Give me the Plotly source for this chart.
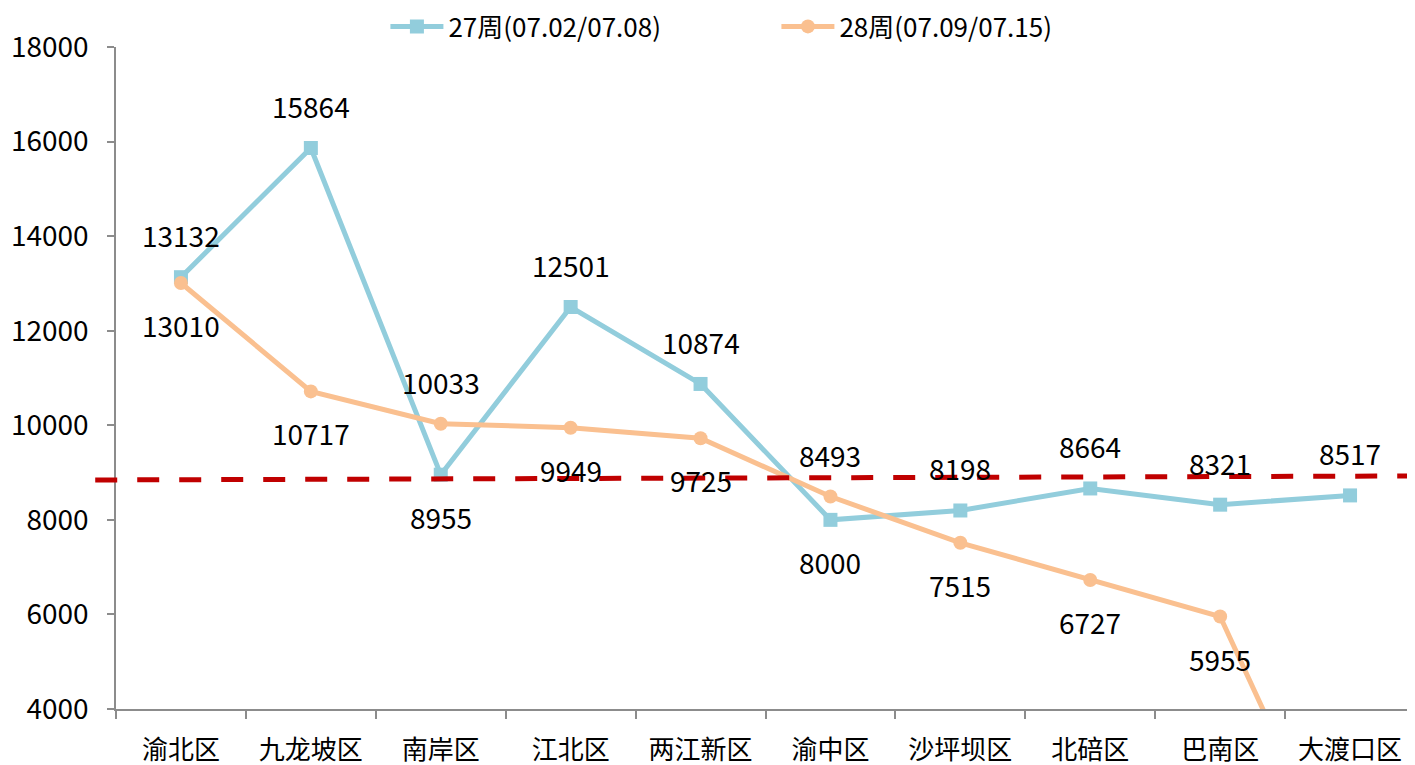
import plotly.graph_objects as go

categories = ["渝北区", "九龙坡区", "南岸区", "江北区", "两江新区", "渝中区", "沙坪坝区", "北碚区", "巴南区", "大渡口区"]
week27 = [13132, 15864, 8955, 12501, 10874, 8000, 8198, 8664, 8321, 8517]
week28 = [13010, 10717, 10033, 9949, 9725, 8493, 7515, 6727, 5955, 0]
# label side: 1 = above, -1 = below
pos27 = [1, 1, -1, 1, 1, -1, 1, 1, 1, 1]
pos28 = [-1, -1, 1, -1, -1, 1, -1, -1, -1, -1]
name27 = "27周(07.02/07.08)"
name28 = "28周(07.09/07.15)"
ref_line = [8844, 8928]

FONT = "Noto Sans CJK SC"
BLUE = "#92CDDC"
ORANGE = "#FAC090"
YMIN, YMAX = 4000, 18000

fig = go.Figure()
fig.add_trace(go.Scatter(x=categories, y=week27, name=name27, mode="lines+markers",
                         line=dict(color=BLUE, width=5),
                         marker=dict(symbol="square", size=14, color=BLUE)))
fig.add_trace(go.Scatter(x=categories, y=week28, name=name28, mode="lines+markers",
                         line=dict(color=ORANGE, width=5),
                         marker=dict(symbol="circle", size=14, color=ORANGE)))

annotations = []
for vals, poss in ((week27, pos27), (week28, pos28)):
    for c, v, p in zip(categories, vals, poss):
        if YMIN <= v <= YMAX:
            annotations.append(dict(x=c, y=v, text=str(v), showarrow=False,
                                    yshift=42 * p, font=dict(family=FONT, size=28, color="#000000")))

fig.add_shape(type="line", xref="paper", yref="y", x0=-0.016, x1=1.0,
              y0=ref_line[0], y1=ref_line[1],
              line=dict(color="#C00000", width=5, dash="22px,20px"))

fig.update_layout(
    width=1407, height=757,
    margin=dict(l=108, r=0, t=39, b=56, autoexpand=False),
    paper_bgcolor="white", plot_bgcolor="white",
    font=dict(family=FONT, size=27, color="#000000"),
    annotations=annotations,
    legend=dict(orientation="h", x=0.2074, xanchor="left", y=1.031, yanchor="middle",
                font=dict(family=FONT, size=26), entrywidth=323, itemwidth=53,
                bgcolor="rgba(0,0,0,0)"),
    showlegend=True,
)
fig.update_xaxes(range=[-0.5, len(categories) - 0.5], showline=True, linecolor="#8C8C8C",
                 linewidth=1.5, ticks="outside",
                 tickson="boundaries", ticklen=8, tickcolor="#8C8C8C", tickwidth=1.5,
                 showgrid=False, zeroline=False, ticklabelstandoff=17,
                 tickfont=dict(family=FONT, size=26))
fig.update_yaxes(range=[YMIN, YMAX], dtick=2000, tickformat="d", showline=True, linecolor="#8C8C8C",
                 linewidth=1.5, ticks="outside", ticklen=7, tickcolor="#8C8C8C", tickwidth=1.5,
                 showgrid=False, zeroline=False, ticklabelstandoff=13,
                 tickfont=dict(family=FONT, size=28))

fig.write_html("out.html")
